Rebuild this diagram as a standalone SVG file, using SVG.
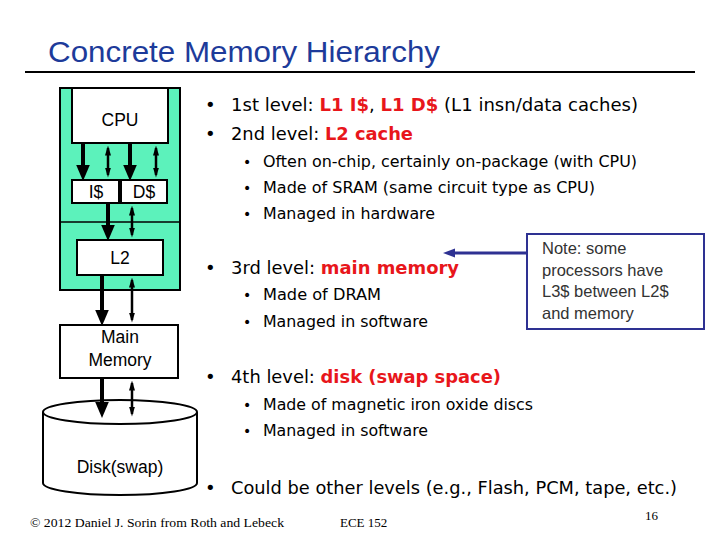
<svg xmlns="http://www.w3.org/2000/svg" width="720" height="540" viewBox="0 0 720 540">
<style>
.b{font-family:"DejaVu Sans",Verdana,sans-serif;fill:#000}
.t1{font-size:18px}.t2{font-size:16px}
.r{fill:#e8161b;font-weight:bold}
.n{font-family:"Liberation Sans",Arial,sans-serif;font-size:17.5px;fill:#000}
.box{fill:#fff;stroke:#000;stroke-width:2}
.thick{stroke:#000;stroke-width:4}
.thin{stroke:#000;stroke-width:2.5}
</style>
<defs>
<marker id="ah" markerWidth="4" markerHeight="4" refX="2" refY="2" orient="auto" markerUnits="strokeWidth"><path d="M0,0.3L4,2L0,3.7z" fill="#000"/></marker>
<marker id="as" markerWidth="4" markerHeight="4" refX="3" refY="2" orient="auto-start-reverse" markerUnits="strokeWidth"><path d="M0,0.8L4,2L0,3.2z" fill="#000"/></marker>
<marker id="bl" markerWidth="4" markerHeight="4" refX="2" refY="2" orient="auto" markerUnits="strokeWidth"><path d="M0,0.5L4,2L0,3.5z" fill="#2e3192"/></marker>
</defs>
<rect width="720" height="540" fill="#fff"/>
<text x="48" y="62" font-family="'Liberation Sans',Arial,sans-serif" font-size="29" fill="#1d3b9a" textLength="392" lengthAdjust="spacingAndGlyphs">Concrete Memory Hierarchy</text>
<line x1="25" y1="72" x2="695" y2="72" stroke="#000" stroke-width="2"/>
<g id="chip"><rect x="60" y="88" width="120" height="202" fill="#5cf2bb" stroke="#000" stroke-width="2"/><line x1="60" y1="222" x2="180" y2="222" stroke="#000" stroke-width="1.5"/></g>
<g id="cpu"><rect class="box" x="72" y="88" width="96" height="55"/><text class="n" x="120" y="126" text-anchor="middle">CPU</text></g>
<g id="icache"><rect class="box" x="72" y="180" width="47" height="23"/><text class="n" x="96" y="198" text-anchor="middle">I$</text></g>
<g id="dcache"><rect class="box" x="121" y="180" width="46" height="23"/><text class="n" x="144" y="198" text-anchor="middle">D$</text></g>
<g id="l2"><rect class="box" x="77" y="240" width="86" height="35"/><text class="n" x="120" y="264" text-anchor="middle">L2</text></g>
<g id="mem"><rect class="box" x="60" y="325" width="118" height="53"/><text class="n" x="120" y="343" text-anchor="middle">Main</text><text class="n" x="120" y="366" text-anchor="middle">Memory</text></g>
<g id="disk"><path d="M43,412 L43,483 A77,12 0 0 0 197,483 L197,412" fill="#fff" stroke="#000" stroke-width="2"/><ellipse cx="120" cy="412" rx="77" ry="12" fill="#fff" stroke="#000" stroke-width="2"/><text class="n" x="120" y="473" text-anchor="middle">Disk(swap)</text></g>
<g id="connectors">
<line class="thick" x1="83" y1="143" x2="83" y2="173" marker-end="url(#ah)"/>
<line class="thick" x1="130" y1="143" x2="130" y2="173" marker-end="url(#ah)"/>
<line class="thick" x1="108" y1="203" x2="108" y2="233" marker-end="url(#ah)"/>
<line class="thick" x1="102" y1="275" x2="102" y2="318" marker-end="url(#ah)"/>
<line class="thick" x1="102" y1="378" x2="102" y2="410" marker-end="url(#ah)"/>
<line class="thin" x1="108" y1="148" x2="108" y2="175" marker-start="url(#as)" marker-end="url(#as)"/>
<line class="thin" x1="156" y1="148" x2="156" y2="175" marker-start="url(#as)" marker-end="url(#as)"/>
<line class="thin" x1="132" y1="208" x2="132" y2="235" marker-start="url(#as)" marker-end="url(#as)"/>
<line class="thin" x1="132" y1="280" x2="132" y2="320" marker-start="url(#as)" marker-end="url(#as)"/>
<line class="thin" x1="132" y1="383" x2="132" y2="414" marker-start="url(#as)" marker-end="url(#as)"/>
<line x1="527" y1="253" x2="449" y2="253" stroke="#2e3192" stroke-width="3" marker-end="url(#bl)"/>
</g>
<g id="note"><rect x="527" y="234" width="177" height="95" fill="#fff" stroke="#2e3192" stroke-width="2"/>
<g font-family="'Liberation Sans',Arial,sans-serif" font-size="16.5" fill="#333">
<text x="542" y="254">Note: some</text><text x="542" y="276">processors have</text><text x="542" y="297">L3$ between L2$</text><text x="542" y="319">and memory</text></g></g>
<g id="bullets" class="b">
<g font-size="18"><text x="205" y="111">•</text><text x="205" y="140">•</text><text x="205" y="274">•</text><text x="205" y="383">•</text><text x="205" y="494">•</text></g>
<g font-size="14"><text x="243" y="167">•</text><text x="243" y="193">•</text><text x="243" y="219">•</text><text x="243" y="300">•</text><text x="243" y="327">•</text><text x="243" y="410">•</text><text x="243" y="436">•</text></g>
<text class="t1" x="231" y="111" textLength="407" lengthAdjust="spacingAndGlyphs">1st level: <tspan class="r">L1 I$</tspan>, <tspan class="r">L1 D$</tspan> (L1 insn/data caches)</text>
<text class="t1" x="231" y="140" textLength="182" lengthAdjust="spacingAndGlyphs">2nd level: <tspan class="r">L2 cache</tspan></text>
<text class="t2" x="263" y="167" textLength="374" lengthAdjust="spacingAndGlyphs">Often on-chip, certainly on-package (with CPU)</text>
<text class="t2" x="263" y="193" textLength="332" lengthAdjust="spacingAndGlyphs">Made of SRAM (same circuit type as CPU)</text>
<text class="t2" x="263" y="219" textLength="172" lengthAdjust="spacingAndGlyphs">Managed in hardware</text>
<text class="t1" x="231" y="274" textLength="228" lengthAdjust="spacingAndGlyphs">3rd level: <tspan class="r">main memory</tspan></text>
<text class="t2" x="263" y="300" textLength="118" lengthAdjust="spacingAndGlyphs">Made of DRAM</text>
<text class="t2" x="263" y="327" textLength="165" lengthAdjust="spacingAndGlyphs">Managed in software</text>
<text class="t1" x="231" y="383" textLength="270" lengthAdjust="spacingAndGlyphs">4th level: <tspan class="r">disk (swap space)</tspan></text>
<text class="t2" x="263" y="410" textLength="270" lengthAdjust="spacingAndGlyphs">Made of magnetic iron oxide discs</text>
<text class="t2" x="263" y="436" textLength="165" lengthAdjust="spacingAndGlyphs">Managed in software</text>
<text class="t1" x="231" y="494" textLength="446" lengthAdjust="spacingAndGlyphs">Could be other levels (e.g., Flash, PCM, tape, etc.)</text>
</g>
<g font-family="'Liberation Serif','Times New Roman',serif" fill="#000" font-size="13">
<text x="30" y="527" textLength="254" lengthAdjust="spacingAndGlyphs">© 2012 Daniel J. Sorin from Roth and Lebeck</text>
<text x="340" y="527">ECE 152</text>
<text x="645" y="520">16</text></g>
</svg>
